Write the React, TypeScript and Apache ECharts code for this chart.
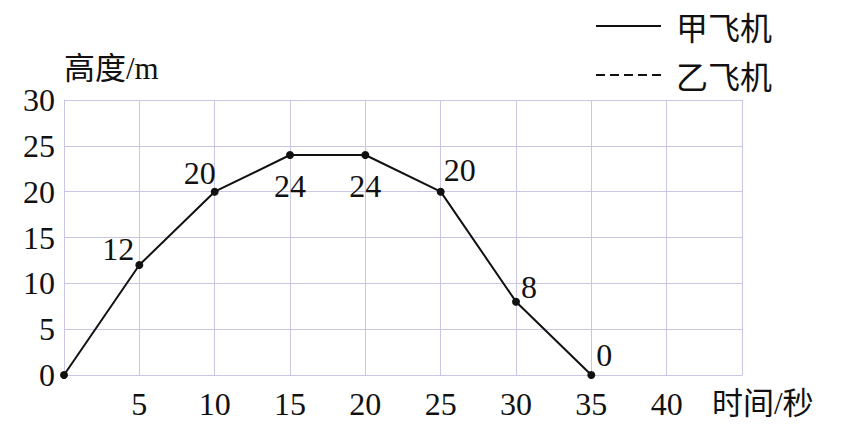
import React, { useEffect, useRef } from "react";
import * as echarts from "echarts";

const times = [0, 5, 10, 15, 20, 25, 30, 35];
const heightsA = [0, 12, 20, 24, 24, 20, 8, 0];
const labelPos = ["none", "left", "left", "bottom", "bottom", "right", "right", "right"];
const labelOffsets = [[0, 0], [4, -16], [10, -19], [0, 6], [0, 6], [-6, -22], [-4, -15], [-4, -20]];
const seriesNames = ["甲飞机", "乙飞机"];
const yName = "高度/m";
const xName = "时间/秒";

const SERIF = "'Liberation Serif', 'DejaVu Serif', serif";
const CJK = "'Liberation Serif', 'Noto Sans CJK SC', serif";
const FS = 32;

export default function App() {
  const ref = useRef<HTMLDivElement>(null);
  useEffect(() => {
    const chart = echarts.init(ref.current!, null, { renderer: "svg" });
    const gridColor = "#c9c6e6";
    const data = times.map((t, i) => {
      const p = labelPos[i];
      const item: any = { value: [t, heightsA[i]] };
      if (p === "none") {
        item.label = { show: false };
      } else {
        item.label = { position: p, offset: labelOffsets[i] };
      }
      return item;
    });
    chart.setOption({
      animation: false,
      backgroundColor: "#ffffff",
      grid: { left: 64, right: 99, top: 100, bottom: 50 },
      legend: {
        orient: "vertical",
        right: 64,
        top: 5,
        itemWidth: 65,
        itemHeight: 30,
        itemGap: 17,
        itemStyle: { opacity: 0 },
        textStyle: { fontFamily: "'Noto Sans CJK SC', sans-serif", fontSize: 32, color: "#111", padding: [0, 0, 0, 10] },
        data: seriesNames,
      },
      xAxis: {
        type: "value",
        min: 0,
        max: 45,
        interval: 5,
        name: xName,
        nameLocation: "end",
        nameGap: -30,
        nameTextStyle: {
          fontFamily: CJK,
          fontSize: 31,
          color: "#111",
          align: "left",
          verticalAlign: "top",
          padding: [13, 0, 0, 0],
        },
        axisLine: { show: true, lineStyle: { color: gridColor, width: 1 } },
        axisTick: { show: false },
        splitLine: { show: true, lineStyle: { color: gridColor, width: 1 } },
        axisLabel: {
          fontFamily: SERIF,
          fontSize: FS,
          color: "#111",
          margin: 13,
          formatter: (v: number) => (v === 0 || v === 45 ? "" : String(v)),
        },
      },
      yAxis: {
        type: "value",
        min: 0,
        max: 30,
        interval: 5,
        name: yName,
        nameLocation: "end",
        nameGap: 16,
        nameTextStyle: { fontFamily: CJK, fontSize: 31, color: "#111", align: "left" },
        axisLine: { show: true, lineStyle: { color: gridColor, width: 1 } },
        axisTick: { show: false },
        splitLine: { show: true, lineStyle: { color: gridColor, width: 1 } },
        axisLabel: { fontFamily: SERIF, fontSize: FS, color: "#111", margin: 9 },
      },
      series: [
        {
          name: seriesNames[0],
          type: "line",
          data,
          symbol: "circle",
          symbolSize: 8,
          itemStyle: { color: "#111" },
          lineStyle: { color: "#111", width: 2, type: "solid" },
          label: {
            show: true,
            fontFamily: SERIF,
            fontSize: FS,
            color: "#111",
            formatter: (p: any) => String(p.value[1]),
          },
        },
        {
          name: seriesNames[1],
          type: "line",
          data: [],
          symbol: "none",
          itemStyle: { color: "#111" },
          lineStyle: { color: "#111", width: 2, type: [9, 5] },
        },
      ],
    });
    return () => chart.dispose();
  }, []);
  return <div ref={ref} style={{ width: 841, height: 425, position: "absolute", left: 0, top: 0 }} />;
}
